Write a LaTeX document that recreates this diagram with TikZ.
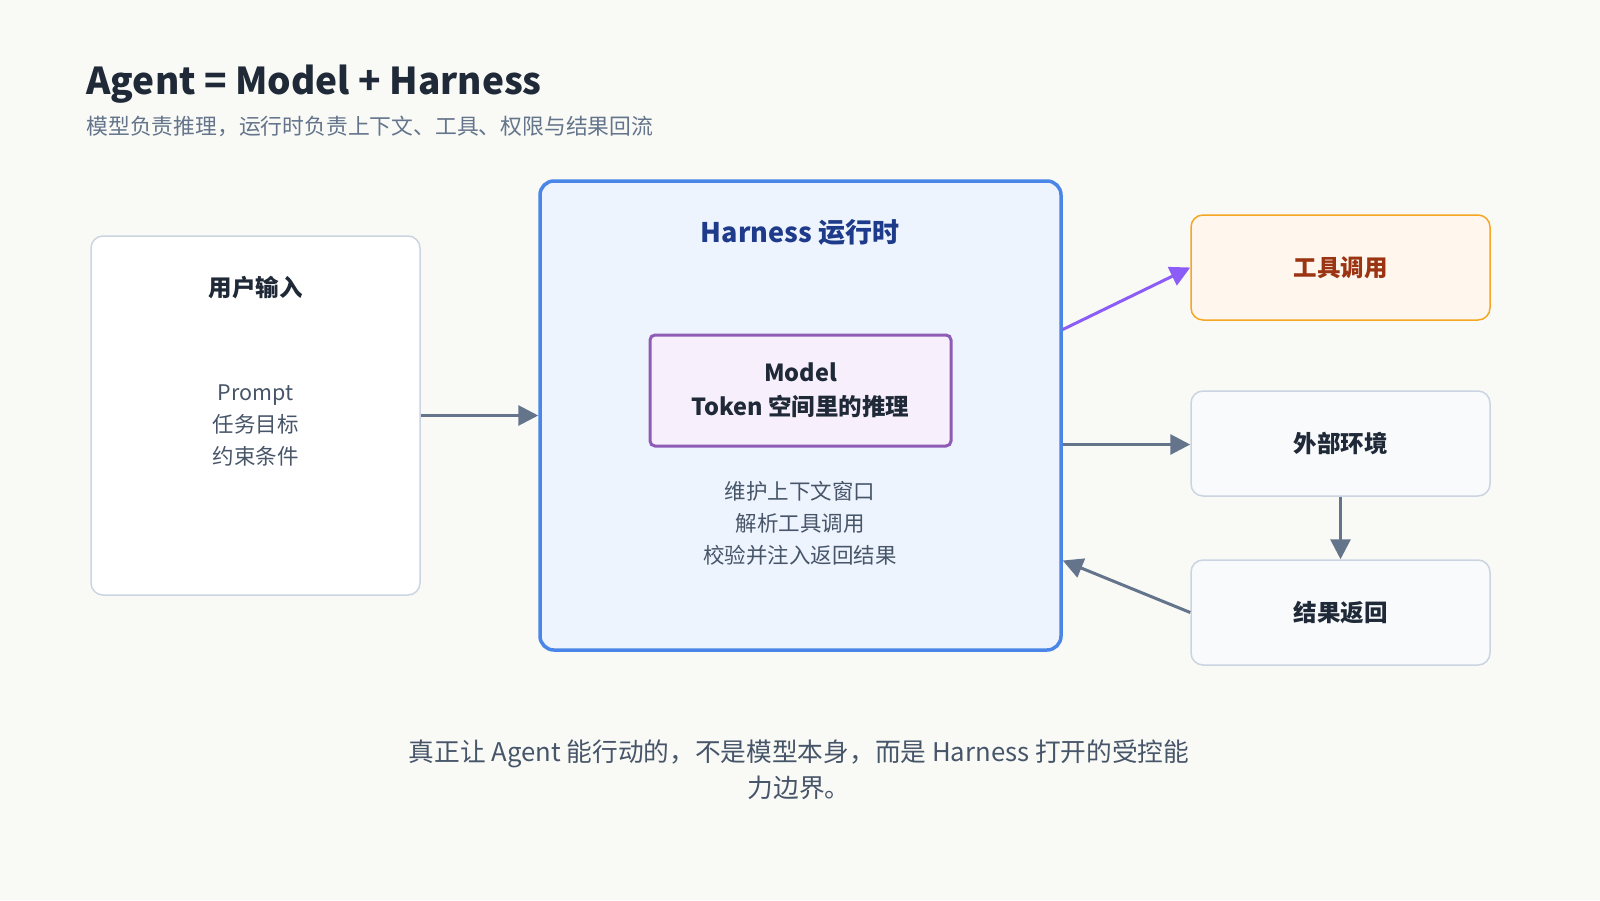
\documentclass[tikz,border=0pt]{standalone}
\usepackage{fontspec}
\setmainfont{Noto Sans CJK SC}
\usetikzlibrary{arrows.meta}
\definecolor{bg}{HTML}{F9FAF6}
\definecolor{ink}{HTML}{1F2937}
\definecolor{sub}{HTML}{64748B}
\definecolor{arr}{HTML}{64748B}
\definecolor{hb}{HTML}{4A86E8}
\definecolor{hf}{HTML}{EEF4FE}
\definecolor{ht}{HTML}{1E3A8A}
\definecolor{mb}{HTML}{8E5BB5}
\definecolor{mf}{HTML}{F7F0FC}
\definecolor{ob}{HTML}{F5A623}
\definecolor{of}{HTML}{FFF7ED}
\definecolor{ot}{HTML}{9A3412}
\definecolor{gb}{HTML}{CBD5E1}
\definecolor{gf}{HTML}{F8FAFC}
\definecolor{pu}{HTML}{8B5CF6}
\definecolor{body}{HTML}{475569}
\tikzset{
 box/.style={draw=gb,line width=1.5pt,rounded corners=12pt,fill=gf,minimum width=299pt,minimum height=105pt,inner sep=0pt,font=\fontsize{23.5}{28}\selectfont\bfseries,text=ink},
 conn/.style={line width=3pt,draw=arr,-{Triangle[length=20pt,width=20pt]}},
 txt/.style={font=\fontsize{21.5}{32}\selectfont,text=body,align=center}
}
\begin{document}
\begin{tikzpicture}[x=1pt,y=-1pt]
\fill[bg] (0,0) rectangle (1600,900);
\useasboundingbox (0,0) rectangle (1600,900);
\node[anchor=west,font=\fontsize{37}{44}\selectfont\bfseries,text=ink] (title) at (83,84) {Agent = Model + Harness};
\node[anchor=west,font=\fontsize{21.8}{26}\selectfont,text=sub] (subt) at (83,126) {模型负责推理，运行时负责上下文、工具、权限与结果回流};
\node[draw=gb,line width=1.5pt,fill=white,rounded corners=12pt,minimum width=329pt,minimum height=359pt] (user) at (255.5,415.5) {};
\node[font=\fontsize{23.5}{28}\selectfont\bfseries,text=ink] (ut) at (255.5,288) {用户输入};
\node[txt,text=body] (ub) at (255.5,425) {Prompt\\任务目标\\约束条件};
\node[draw=hb,line width=3.5pt,fill=hf,rounded corners=14pt,minimum width=521pt,minimum height=469pt] (harness) at (800.5,415.5) {};
\node[font=\fontsize{27}{30}\selectfont\bfseries,text=ht] (htit) at (800,232) {Harness 运行时};
\node[draw=mb,line width=3pt,fill=mf,rounded corners=5pt,minimum width=301pt,minimum height=111pt,align=center,font=\fontsize{23.5}{34}\selectfont\bfseries,text=ink] (model) at (800.5,390.5) {Model\\Token 空间里的推理};
\node[txt] (hb2) at (800,523) {维护上下文窗口\\解析工具调用\\校验并注入返回结果};
\node[box,draw=ob,fill=of,text=ot] (tool) at (1340.5,267.5) {工具调用};
\node[box] (env) at (1340.5,443.5) {外部环境};
\node[box] (res) at (1340.5,612.5) {结果返回};
\draw[conn] (user.east) -- (harness.west);
\draw[conn,draw=pu] ([yshift=86pt]harness.east) -- (tool.west);
\draw[conn] ([yshift=-29pt]harness.east) -- ([yshift=-29pt]env.west|-harness.east);
\draw[conn] (env.south) -- (res.north);
\draw[conn] (res.west) -- ([yshift=-145pt]harness.east);
\node[txt,font=\fontsize{25.7}{36}\selectfont] (foot) at (799,770) {真正让 Agent 能行动的，不是模型本身，而是 Harness 打开的受控能\\力边界。};
\end{tikzpicture}
\end{document}
